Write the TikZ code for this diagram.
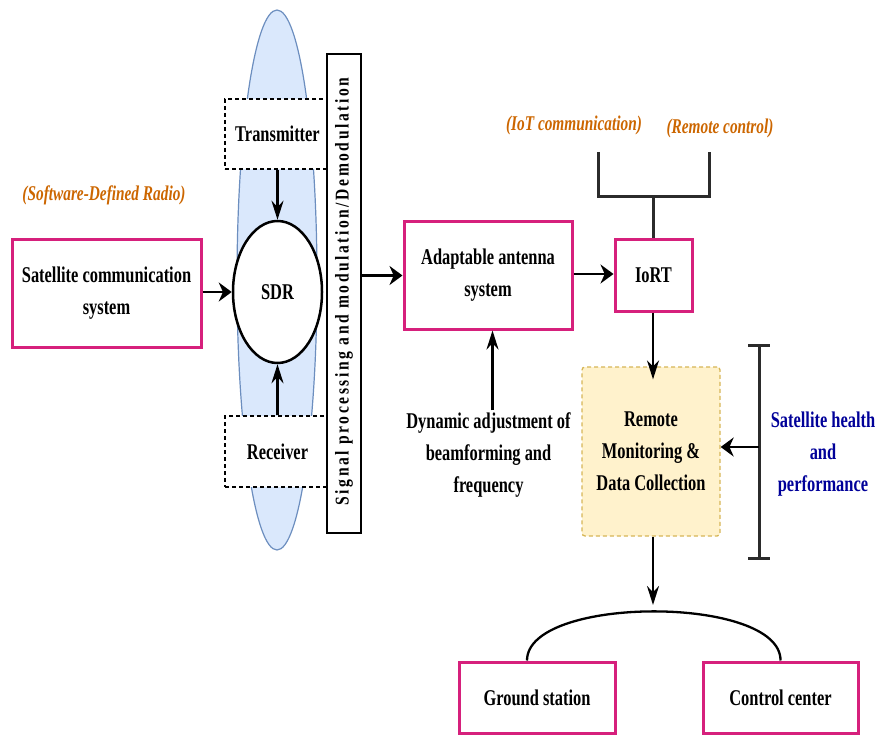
\documentclass[tikz,border=0pt]{standalone}
\usepackage{fontspec}
\setmainfont{Liberation Serif}[FakeStretch=0.73]
\newfontfamily\sidefont{Liberation Serif}[FakeStretch=0.8,LetterSpace=13]
\usetikzlibrary{arrows.meta,shapes.geometric}

\definecolor{pinkline}{RGB}{214,32,124}
\definecolor{orangetxt}{RGB}{204,102,0}
\definecolor{bluetxt}{RGB}{0,0,153}
\definecolor{bandfill}{HTML}{DAE8FC}
\definecolor{bandline}{HTML}{6C8EBF}
\definecolor{notefill}{HTML}{FFF2CC}
\definecolor{noteline}{HTML}{D6B656}
\definecolor{darkline}{HTML}{2B2B2B}

\begin{document}
\begin{tikzpicture}[x=1pt,y=-1pt,
  txt/.style={font=\fontsize{22.5}{32}\selectfont\bfseries, align=center},
  note/.style={font=\fontsize{21}{24}\selectfont\bfseries\itshape, text=orangetxt, inner sep=0pt},
  pinkbox/.style={txt, draw=pinkline, line width=3pt, fill=white, inner sep=0pt},
  dashbox/.style={txt, draw=black, line width=1.4pt, dash pattern=on 4pt off 3pt, fill=white, inner sep=0pt},
  harr/.style={line width=2.3pt, -{Stealth[length=13pt,width=19pt]}},
  varr/.style={line width=2.3pt, -{Stealth[length=19pt,width=12pt]}},
  plainline/.style={line width=3pt, draw=darkline}]

\useasboundingbox (0,0) rectangle (877,735);

% blue band behind the SDR block
\node[ellipse, draw=bandline, fill=bandfill, line width=1.2pt,
      minimum width=80pt, minimum height=540pt, inner sep=0pt] (band) at (277,280) {};

% SDR block
\node[dashbox, minimum width=105pt, minimum height=70pt] (tx) at (277.5,134) {Transmitter};
\node[dashbox, minimum width=105pt, minimum height=71pt] (rx) at (277.5,451.5) {Receiver};
\node[ellipse, txt, draw=black, line width=2.5pt, fill=white,
      minimum width=89pt, minimum height=142pt, inner sep=0pt] (sdr) at (277.5,292) {SDR};

% vertical processing bar
\node[draw=black, line width=1.5pt, fill=white, minimum width=34pt, minimum height=479pt,
      inner sep=0pt] (sig) at (344,293.5) {};
\node[rotate=90, inner sep=0pt] (sigtxt) at ([yshift=2pt]sig.center)
  {\fontsize{19.5}{20}\selectfont\sidefont\bfseries Signal processing and modulation/Demodulation};

% main boxes
\node[pinkbox, minimum width=189pt, minimum height=108pt] (sat) at (106.5,293)
  {Satellite communication\\system};
\node[pinkbox, minimum width=168pt, minimum height=107pt] (ant) at (488,275.5)
  {Adaptable antenna\\system};
\node[pinkbox, minimum width=77pt, minimum height=72pt] (iort) at (653.5,275) {IoRT};
\node[txt, draw=noteline, fill=notefill, line width=1.3pt, dash pattern=on 4pt off 3pt,
      rounded corners=3pt, minimum width=138pt, minimum height=169pt, inner sep=0pt]
  (mon) at (651,451.5) {Remote\\Monitoring \&\\Data Collection};
\node[pinkbox, minimum width=156pt, minimum height=71pt] (gs) at (537,697.5) {Ground station};
\node[pinkbox, minimum width=155pt, minimum height=71pt] (cc) at (780.5,697.5) {Control center};

% free texts
\node[txt, inner sep=2pt] (dyn) at (488.5,455)
  {Dynamic adjustment of\\beamforming and\\frequency};
\node[txt, text=bluetxt, inner sep=2pt] (health) at (823,454)
  {Satellite health\\and\\performance};
\node[note] (sdrnote) at (104,195) {(Software-Defined Radio)};
\node[note] (iotnote) at (574,125) {(IoT communication)};
\node[note] (remnote) at (720,128) {(Remote control)};

% helper points
\coordinate (fj) at (653,197);
\coordinate (fl) at (598,152);
\coordinate (fr) at (709,152);
\coordinate (bt) at (759,345);
\coordinate (bb) at (759,558);
\coordinate (bm) at (759,447);
\coordinate (arctop) at (653,605);

% connectors
\draw[harr] (sat.east |- sdr.west) -- (sdr.west);
\draw[varr] (tx.south) -- (sdr.north);
\draw[varr] (rx.north) -- (sdr.south);
\draw[harr] (sig.east |- ant.west) -- (ant.west);
\draw[harr] (ant.east |- 0,274) -- (iort.west |- 0,274);
\draw[varr] ([xshift=4pt]dyn.north) -- ([xshift=4pt]dyn.north |- ant.south);

% IoRT fork
\draw[plainline] (iort.north -| fj) -- (fj);
\draw[plainline] (fl) |- (fj) -| (fr);

% IoRT to monitoring
\draw[varr] (iort.south -| fj) -- ([yshift=-13pt]mon.north -| fj);

% health bracket
\draw[plainline] (bt) -- (bb);
\draw[plainline] ([xshift=-11pt]bt) -- ([xshift=11pt]bt);
\draw[plainline] ([xshift=-11pt]bb) -- ([xshift=11pt]bb);
\draw[harr] (bm) -- (bm -| mon.east);

% monitoring to ground segment
\draw[varr] (mon.south -| arctop) -- (arctop);
\draw[line width=2.3pt] ([xshift=-10pt]gs.north) .. controls (527,595) and (781,595) .. (cc.north);

\end{tikzpicture}
\end{document}
